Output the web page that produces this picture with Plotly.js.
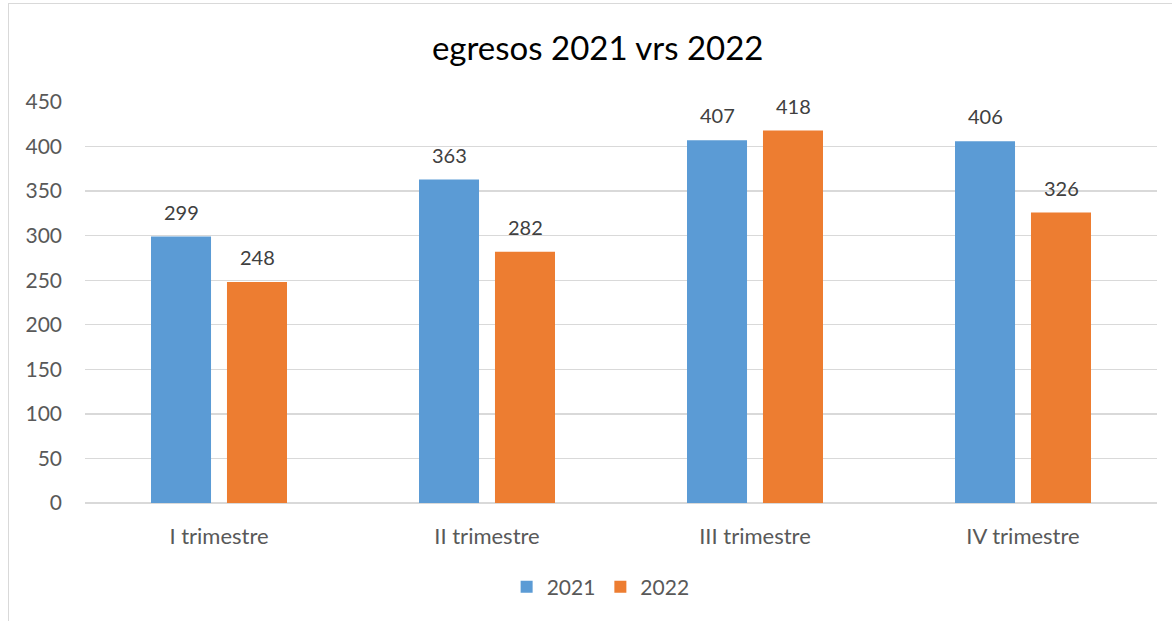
<!DOCTYPE html>
<html>
<head>
<meta charset="utf-8">
<script src="https://cdn.plot.ly/plotly-3.0.1.min.js"></script>
<style>
html,body{margin:0;padding:0;background:#fff;}
#chart{position:absolute;left:0;top:0;width:1172px;height:621px;}
#frame{position:absolute;left:8px;top:3px;width:1200px;height:700px;border:1px solid #d9d9d9;pointer-events:none;}
</style>
</head>
<body>
<div id="chart"></div>
<div id="frame"></div>
<script>
const categories = ["I trimestre", "II trimestre", "III trimestre", "IV trimestre"];
const values2021 = [299, 363, 407, 406];
const values2022 = [248, 282, 418, 326];
const seriesNames = ["2021", "2022"];

const FONT = "Lato, 'Open Sans', sans-serif";
const traces = [
  {type:"bar", name:seriesNames[0], x:categories, y:values2021, marker:{color:"#5B9BD5"}},
  {type:"bar", name:seriesNames[1], x:categories, y:values2022, marker:{color:"#ED7D31"}}
];
const annotations = [];
[values2021, values2022].forEach((vals, si) => {
  vals.forEach((v, i) => {
    annotations.push({x:categories[i], y:v, xref:"x", yref:"y", text:String(v), showarrow:false,
      xshift: si === 0 ? -38 : 38, yshift:25, yanchor:"middle", xanchor:"center",
      font:{size:20, color:"#404040", family:FONT}});
  });
});
const layout = {
  width:1172, height:621,
  margin:{l:85, r:15, t:102, b:118},
  paper_bgcolor:"#fff", plot_bgcolor:"#fff",
  font:{family:FONT, color:"#595959", size:18},
  title:{text:"egresos 2021 vrs 2022", x:0.51, xanchor:"center", y:0.922, yanchor:"middle",
         font:{size:33, color:"#000", family:FONT}},
  barmode:"group", bargap:0.433, bargroupgap:0.21,
  xaxis:{showgrid:false, showline:false, ticks:"", tickfont:{size:22, color:"#595959"}, ticklabelstandoff:18},
  yaxis:{range:[0,450], dtick:50, gridcolor:"#d9d9d9", gridwidth:1.3, zeroline:true, zerolinecolor:"#d9d9d9", zerolinewidth:1.3,
         showline:false, ticks:"", tickfont:{size:21, color:"#595959"}, ticklabelstandoff:22},
  annotations: annotations,
  showlegend:true,
  legend:{orientation:"h", x:0.481, xanchor:"center", y:-0.21, yanchor:"middle",
          font:{size:21, color:"#595959"}, itemwidth:30, traceorder:"normal"}
};
Plotly.newPlot("chart", traces, layout, {displayModeBar:false, staticPlot:true});
</script>
</body>
</html>
